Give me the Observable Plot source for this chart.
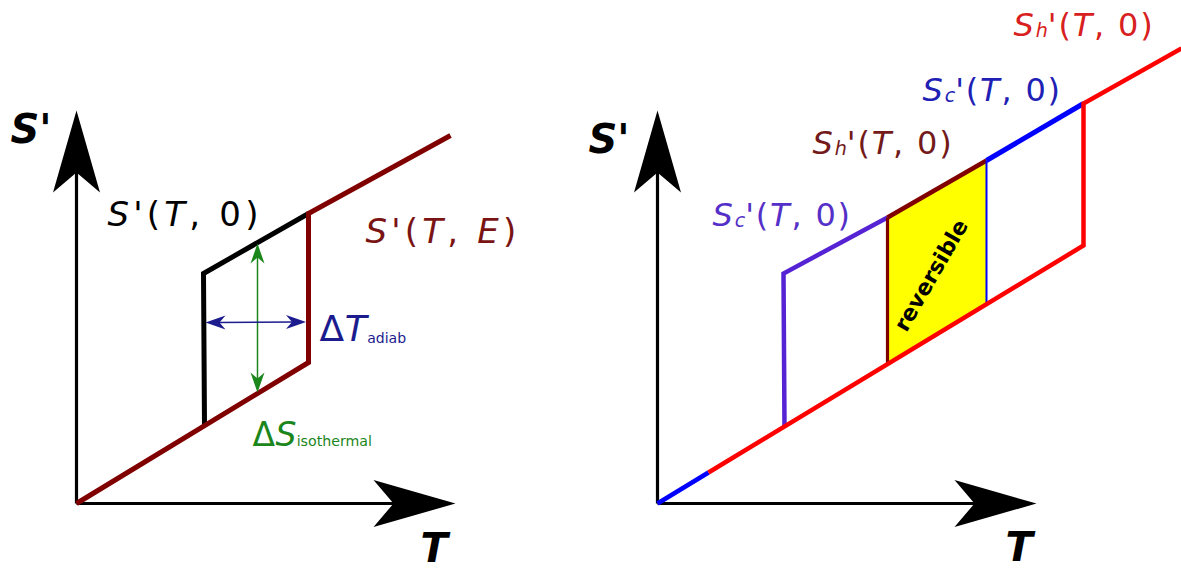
<!DOCTYPE html>
<html>
<head>
<meta charset="utf-8">
<script src="https://cdn.jsdelivr.net/npm/d3@7"></script>
<script src="https://cdn.jsdelivr.net/npm/@observablehq/plot@0.6"></script>
<style>
  html, body { margin: 0; padding: 0; background: #fff; }
  #figure { display: flex; width: 1181px; height: 571px; overflow: hidden; background: #fff; }
  #figure svg { overflow: visible; flex: none; }
</style>
</head>
<body>
<div id="figure"></div>
<script>
// Entropy–temperature sketch of an electrocaloric cycle: T across, S' up.
// Both axes use the same arbitrary unit, so slopes read as drawn.

// ---------- shared axes ----------
const axisTips = [
  {axis: "T", T: 37.9, S: 0},
  {axis: "S", T: 0, S: 39.3}
];

// ---------- left panel: one material, field off / on ----------
const curveE = [ {T: 0, S: 0}, {T: 23.2, S: 14.1}, {T: 23.2, S: 29.0}, {T: 37.4, S: 36.8} ];   // S'(T, E)
const curve0 = [ {T: 12.8, S: 7.8}, {T: 12.7, S: 23.0}, {T: 23.2, S: 29.0} ];                  // S'(T, 0)
const deltaT = [ {T: 12.9, S: 18.1, dir: -90}, {T: 22.95, S: 18.15, dir: 90} ];                 // ΔT adiab
const deltaS = [ {T: 18.1, S: 26.0, dir: 0}, {T: 18.1, S: 11.1, dir: 180} ];                    // ΔS isothermal

const leftNames = [ {name: "S'", T: -6.6, S: 36.1}, {name: "T", T: 34.4, S: -5.8} ];
const leftLabels = [
  {id: "s0",  T: 3.1,  S: 27.8, parts: [["S", "i"], ["'(", ""], ["T", "i"], [", 0)", ""]]},
  {id: "sE",  T: 28.9, S: 26.1, parts: [["S", "i"], ["'(", ""], ["T", "i"], [", ", ""], ["E", "i"], [")", ""]]},
  {id: "dT",  T: 24.3, S: 16.3, parts: [["Δ", ""], ["T", "i"], ["adiab", "sub"]]},
  {id: "dS",  T: 17.6, S: 5.8,  parts: [["Δ", ""], ["S", "i"], ["isothermal", "sub"]]}
];

// ---------- right panel: cold and hot materials, reversible overlap ----------
const baseBlue = [ {T: 0, S: 0}, {T: 5.1, S: 3.1} ];
const hotRed   = [ {T: 5.1, S: 3.1}, {T: 42.6, S: 25.8}, {T: 42.6, S: 40.0}, {T: 52.4, S: 45.5} ];
const coldOff  = [ {T: 12.7, S: 7.7}, {T: 12.6, S: 23.0}, {T: 23.0, S: 28.6} ];
const hotEdge  = [ {T: 23.0, S: 13.9}, {T: 23.0, S: 28.6} ];
const hotTop   = [ {T: 23.0, S: 28.6}, {T: 32.9, S: 34.3} ];
const coldEdge = [ {T: 32.9, S: 19.9}, {T: 32.9, S: 34.3} ];
const coldTop  = [ {T: 32.9, S: 34.3}, {T: 42.6, S: 40.0} ];
const reversibleBand = [ {T: 23.0, lo: 13.9, hi: 28.6}, {T: 32.9, lo: 19.9, hi: 34.3} ];
const reversibleNote = [ {T: 27.4, S: 22.8, text: "reversible"} ];

const rightNames = [ {name: "S'", T: -6.9, S: 35.1}, {name: "T", T: 34.8, S: -5.7} ];
const Sc = [["S", "i"], ["c", "subi"], ["'(", ""], ["T", "i"], [", 0)", ""]];
const Sh = [["S", "i"], ["h", "subi"], ["'(", ""], ["T", "i"], [", 0)", ""]];
const rightLabels = [
  {id: "cLow",  T: 5.5,  S: 27.8, parts: Sc},
  {id: "hLow",  T: 15.5, S: 35.0, parts: Sh},
  {id: "cHigh", T: 26.5, S: 40.3, parts: Sc},
  {id: "hHigh", T: 35.6, S: 46.8, parts: Sh}
];

// ---------- styles ----------
const FONT = "'DejaVu Sans', Verdana, sans-serif";
const labelStyle = {
  s0:    {fill: "#000000", size: 34, sub: 0.62, subDy: 0, spacing: 4.2},
  sE:    {fill: "#7a1313", size: 34, sub: 0.62, subDy: 0, spacing: 4.2},
  dT:    {fill: "#1c1c8e", size: 36, sub: 0.39, subDy: 2, spacing: 0.5},
  dS:    {fill: "#1b861b", size: 33, sub: 0.43, subDy: 0, spacing: 0.3},
  cLow:  {fill: "#5530c8", size: 32, sub: 0.6, subDy: 1, spacing: 1.8},
  hLow:  {fill: "#731a1a", size: 32, sub: 0.6, subDy: 1, spacing: 1.8},
  cHigh: {fill: "#2020b4", size: 32, sub: 0.6, subDy: 1, spacing: 1.8},
  hHigh: {fill: "#d82020", size: 32, sub: 0.6, subDy: 1, spacing: 1.8}
};

const PX = 10; // screen pixels per data unit (range 500 px over a 50-unit domain)

// Filled arrowhead with a notched back, tip at the origin, pointing up.
function arrowHead(len, half, notch) {
  return {
    draw(ctx) {
      ctx.moveTo(0, 0);
      ctx.lineTo(half, len);
      ctx.lineTo(0, notch);
      ctx.lineTo(-half, len);
      ctx.closePath();
    }
  };
}
const bigHead = arrowHead(82, 23.5, 62);
const smallHead = arrowHead(20, 7, 14);

function axisMarks(names) {
  const back = 60 / PX;
  return [
    Plot.link(axisTips, {
      x1: () => 0, y1: () => 0,
      x2: d => d.axis === "T" ? d.T - back : d.T,
      y2: d => d.axis === "S" ? d.S - back : d.S,
      stroke: "black", strokeWidth: 3.2
    }),
    Plot.dot(axisTips, {
      x: "T", y: "S", symbol: bigHead, r: 5, fill: "black", stroke: "none",
      rotate: d => d.axis === "T" ? 90 : 0
    }),
    Plot.text(names, {
      x: "T", y: "S", text: "name", textAnchor: "start", lineAnchor: "bottom",
      fontFamily: FONT, fontSize: 40, fontWeight: "bold", fontStyle: "italic", fill: "black",
      letterSpacing: -3
    })
  ];
}

function doubleArrow(data, color) {
  const back = 12 / PX;
  return [
    Plot.link([data], {
      x1: d => d[0].T - Math.sin(d[0].dir * Math.PI / 180) * back,
      y1: d => d[0].S - Math.cos(d[0].dir * Math.PI / 180) * back,
      x2: d => d[1].T - Math.sin(d[1].dir * Math.PI / 180) * back,
      y2: d => d[1].S - Math.cos(d[1].dir * Math.PI / 180) * back,
      stroke: color, strokeWidth: 1.5
    }),
    Plot.dot(data, {x: "T", y: "S", symbol: smallHead, r: 3, fill: color, stroke: "none", rotate: "dir"})
  ];
}

function path(data, color, width) {
  return Plot.line(data, {
    x: "T", y: "S", stroke: color, strokeWidth: width,
    strokeLinejoin: "miter", strokeLinecap: "butt", strokeMiterlimit: 10
  });
}

const plain = d => d.parts.map(p => p[0]).join("");

function labelMarks(labels) {
  return Plot.text(labels, {
    x: "T", y: "S", text: plain,
    textAnchor: "start", lineAnchor: "bottom", fontFamily: FONT, fontSize: 30
  });
}

// Replace each label's plain text with styled runs (italic symbols, small subscripts).
function enrich(svg, labels) {
  const NS = "http://www.w3.org/2000/svg";
  const used = new Set();
  const nodes = Array.from(svg.querySelectorAll("text"));
  for (const d of labels) {
    const node = nodes.find(n => !used.has(n) && n.textContent === plain(d));
    if (!node) continue;
    used.add(node);
    const st = labelStyle[d.id];
    node.textContent = "";
    node.setAttribute("fill", st.fill);
    node.setAttribute("font-size", st.size);
    node.setAttribute("letter-spacing", st.spacing);
    let shifted = 0;
    for (const [str, kind] of d.parts) {
      const ts = document.createElementNS(NS, "tspan");
      ts.textContent = str;
      const sub = kind === "sub" || kind === "subi";
      if (kind === "i" || kind === "subi") ts.setAttribute("font-style", "italic");
      const want = sub ? st.subDy : 0;
      if (sub) {
        ts.setAttribute("font-size", st.size * st.sub);
        ts.setAttribute("letter-spacing", 0);
      }
      if (want !== shifted) { ts.setAttribute("dy", want - shifted); shifted = want; }
      node.appendChild(ts);
    }
  }
}

function panel(width, marginRight, marks) {
  return Plot.plot({
    width, height: 571,
    marginLeft: 76, marginRight, marginTop: 103, marginBottom: 68,
    x: {domain: [0, 50], axis: null},
    y: {domain: [0, 40], axis: null},
    style: {background: "white", overflow: "visible"},
    marks
  });
}

const left = panel(581, 5, [
  ...axisMarks(leftNames),
  path(curve0, "black", 5),
  path(curveE, "#800000", 5),
  ...doubleArrow(deltaS, "#1b861b"),
  ...doubleArrow(deltaT, "#1c1c8e"),
  labelMarks(leftLabels)
]);
enrich(left, leftLabels);

const right = panel(600, 24, [
  Plot.areaY(reversibleBand, {x: "T", y1: "lo", y2: "hi", fill: "#ffff00"}),
  ...axisMarks(rightNames),
  path(coldOff, "#5522d4", 4.5),
  path(hotEdge, "#800000", 3.2),
  path(hotTop, "#800000", 4.5),
  path(coldEdge, "#0000ff", 2),
  path(coldTop, "#0000ff", 5),
  path(baseBlue, "#0000ff", 4.5),
  path(hotRed, "#ff0000", 4.5),
  Plot.text(reversibleNote, {
    x: "T", y: "S", text: "text", rotate: -60, fontFamily: FONT, fontSize: 22,
    fontWeight: "bold", fill: "black"
  }),
  labelMarks(rightLabels)
]);
enrich(right, rightLabels);

const fig = document.getElementById("figure");
fig.appendChild(left);
fig.appendChild(right);
</script>
</body>
</html>
